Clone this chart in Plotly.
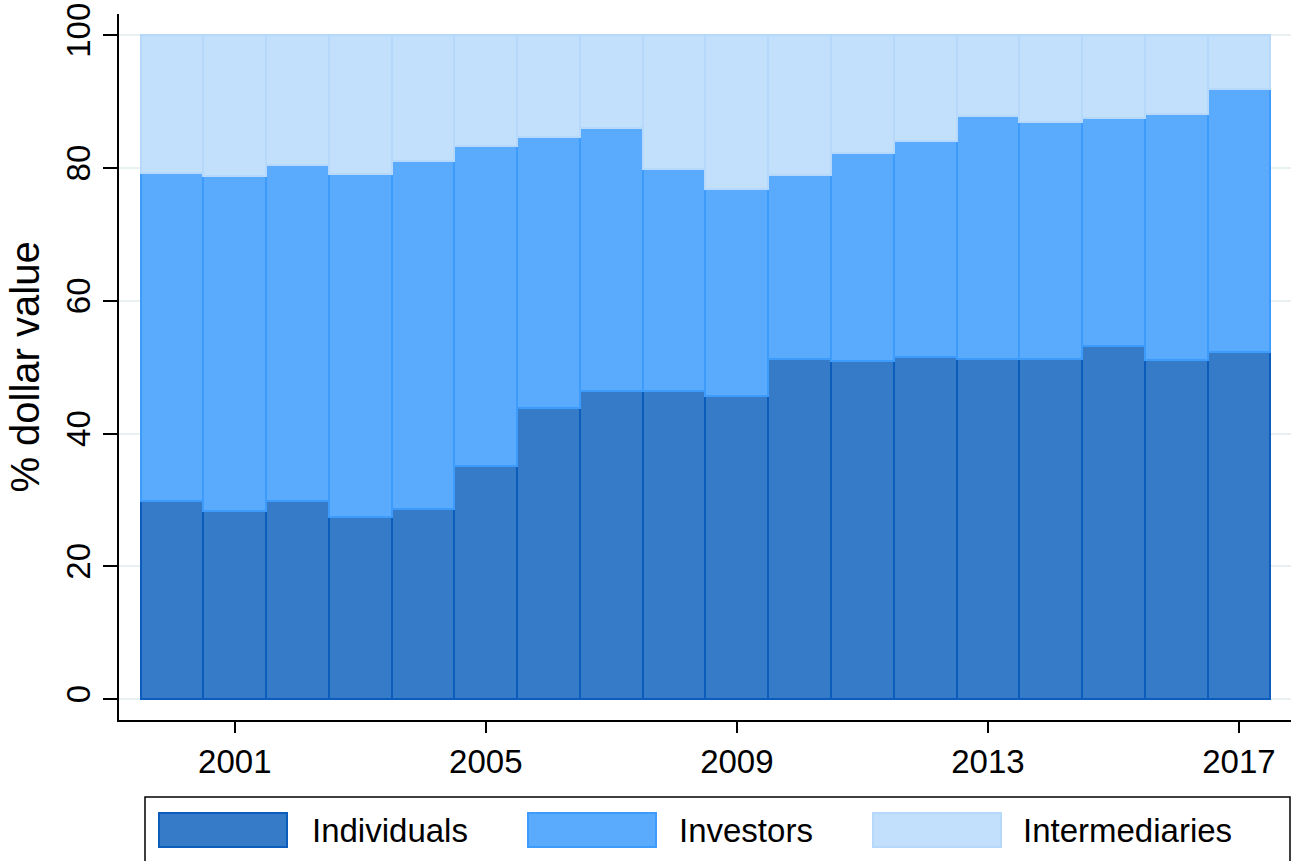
import plotly.graph_objects as go

# Share of dollar value by participant type, 2000-2017 (percent)
years = list(range(2000, 2018))
individuals = [29.9, 28.4, 29.9, 27.4, 28.7, 35.1, 43.8, 46.4, 46.4, 45.6,
               51.3, 50.9, 51.5, 51.3, 51.3, 53.2, 51.0, 52.3]
investors = [49.4, 50.4, 50.6, 51.7, 52.4, 48.2, 40.8, 39.6, 33.4, 31.2,
             27.6, 31.4, 32.5, 36.5, 35.7, 34.3, 37.1, 39.6]
intermediaries = [20.7, 21.2, 19.5, 20.9, 18.9, 16.7, 15.4, 14.0, 20.2, 23.2,
                  21.1, 17.7, 16.0, 12.2, 13.0, 12.5, 11.9, 8.1]

series_names = ["Individuals", "Investors", "Intermediaries"]
x_ticks = [2001, 2005, 2009, 2013, 2017]
y_ticks = [0, 20, 40, 60, 80, 100]

FONT = "Helvetica, Arial, Liberation Sans, sans-serif"
FILLS = ["#357bc7", "#5aabfe", "#c2dffc"]
LINES = ["#0b5cbb", "#3d9bfc", "#b5d8fb"]

W, H = 1291, 861
M_L, M_R, M_T, M_B = 119, 0, 14, 141

fig = go.Figure()
for name, vals, fc, lc in zip(series_names,
                              [individuals, investors, intermediaries],
                              FILLS, LINES):
    fig.add_trace(go.Bar(
        x=years, y=vals, name=name,
        marker=dict(color=fc, line=dict(color=lc, width=2.5)),
        showlegend=False,
    ))

# pixel -> paper helpers for the boxed legend underneath the plot
pw = W - M_L - M_R
ph = H - M_T - M_B


def px_x(p):
    return (p - M_L) / pw


def px_y(p):
    return (H - M_B - p) / ph


shapes = [dict(type="rect", xref="paper", yref="paper",
               x0=px_x(145), x1=px_x(1290), y0=px_y(862), y1=px_y(797),
               line=dict(color="black", width=1.5), fillcolor="white",
               layer="above")]
annotations = []
swatch_x = [159, 528, 873]
text_x = [310, 677, 1021]
for name, fc, lc, sx, tx in zip(series_names, FILLS, LINES, swatch_x, text_x):
    shapes.append(dict(type="rect", xref="paper", yref="paper",
                       x0=px_x(sx), x1=px_x(sx + 128),
                       y0=px_y(847), y1=px_y(813),
                       fillcolor=fc, line=dict(color=lc, width=2),
                       layer="above"))
    annotations.append(dict(xref="paper", yref="paper", x=px_x(tx),
                            y=px_y(830), text=name, showarrow=False,
                            xanchor="left", yanchor="middle",
                            font=dict(family=FONT, size=33, color="black")))

fig.update_layout(
    width=W, height=H,
    barmode="stack", bargap=0,
    paper_bgcolor="white", plot_bgcolor="white",
    margin=dict(l=M_L, r=M_R, t=M_T, b=M_B),
    font=dict(family=FONT, size=33, color="black"),
    shapes=shapes, annotations=annotations,
    xaxis=dict(
        range=[1999.155, 2017.83],
        tickvals=x_ticks, ticktext=[str(v) for v in x_ticks],
        ticks="outside", ticklen=11, tickwidth=2, tickcolor="black",
        showline=True, linecolor="black", linewidth=2,
        showgrid=False, zeroline=False,
        tickfont=dict(size=33),
    ),
    yaxis=dict(
        range=[-3.16, 103.2],
        tickvals=y_ticks, tickangle=-90,
        ticks="outside", ticklen=14, tickwidth=2, tickcolor="black",
        showline=True, linecolor="black", linewidth=2,
        showgrid=True, gridcolor="#e8f0f1", gridwidth=2,
        zeroline=False,
        tickfont=dict(size=33),
        title=dict(text="% dollar value", font=dict(size=40), standoff=8),
    ),
)

fig.write_html("out.html")
